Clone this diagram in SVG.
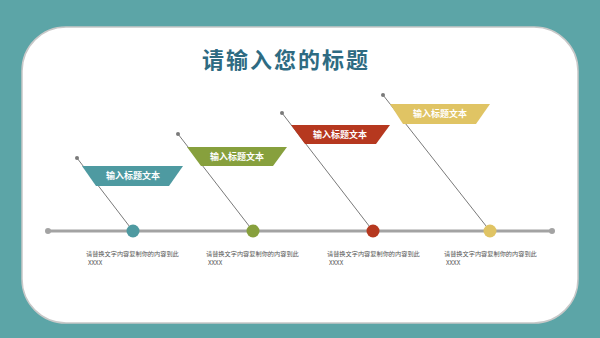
<svg xmlns="http://www.w3.org/2000/svg" width="600" height="338" viewBox="0 0 600 338">
<defs>
<style>
.banner-text{font-family:"Noto Sans CJK SC","Noto Sans",sans-serif;font-size:9px;font-weight:bold;fill:#ffffff;text-anchor:middle}
.body{font-family:"Noto Sans CJK SC","Noto Sans",sans-serif;font-size:6.2px;fill:#555555}
.pin{stroke:#7a7a7a;stroke-width:1;fill:none}
.pindot{fill:#7a7a7a}
</style>
</defs>
<rect x="0" y="0" width="600" height="338" fill="#5CA5A7"/>
<rect x="22" y="27" width="556" height="296" rx="44" ry="44" fill="#ffffff" stroke="#c8c8c8" stroke-width="1.5"/>
<g id="title">
<text x="286" y="68" font-family="Noto Sans CJK SC,sans-serif" font-size="22" font-weight="bold" fill="#2E6B82" text-anchor="middle" letter-spacing="2">请输入您的标题</text>
</g>
<g id="connectors">
<line x1="48" y1="231" x2="552" y2="231" stroke="#a3a3a3" stroke-width="3"/>
<circle cx="48" cy="231" r="3" fill="#a3a3a3"/>
<circle cx="552" cy="231" r="3" fill="#a3a3a3"/>
<line class="pin" x1="77" y1="158" x2="133" y2="231"/>
<circle class="pindot" cx="77" cy="158" r="2"/>
<line class="pin" x1="178" y1="134" x2="253" y2="231"/>
<circle class="pindot" cx="178" cy="134" r="2"/>
<line class="pin" x1="282" y1="113" x2="373" y2="231"/>
<circle class="pindot" cx="282" cy="113" r="2"/>
<line class="pin" x1="383" y1="95" x2="490" y2="231"/>
<circle class="pindot" cx="383" cy="95" r="2"/>
</g>
<g id="node1">
<polygon points="82,166 183,166 169,186 96,186" fill="#4E9AA1"/>
<text class="banner-text" x="133" y="179">输入标题文本</text>
<circle cx="133" cy="231" r="6.5" fill="#4E9AA1"/>
<text class="body" x="86" y="256">请替换文字内容复制你的内容到此</text>
<text class="body" x="88" y="265">XXXX</text>
</g>
<g id="node2">
<polygon points="187,147 287,147 273,166 201,166" fill="#87A03D"/>
<text class="banner-text" x="237" y="160">输入标题文本</text>
<circle cx="253" cy="231" r="6.5" fill="#87A03D"/>
<text class="body" x="206" y="256">请替换文字内容复制你的内容到此</text>
<text class="body" x="208" y="265">XXXX</text>
</g>
<g id="node3">
<polygon points="291,125 390,125 376,144 305,144" fill="#B6381F"/>
<text class="banner-text" x="340" y="138">输入标题文本</text>
<circle cx="373" cy="231" r="6.5" fill="#B6381F"/>
<text class="body" x="327" y="256">请替换文字内容复制你的内容到此</text>
<text class="body" x="329" y="265">XXXX</text>
</g>
<g id="node4">
<polygon points="390,104 490,104 476,124 403,124" fill="#E0C464"/>
<text class="banner-text" x="440" y="117">输入标题文本</text>
<circle cx="490" cy="231" r="6.5" fill="#E0C464"/>
<text class="body" x="444" y="256">请替换文字内容复制你的内容到此</text>
<text class="body" x="446" y="265">XXXX</text>
</g>
</svg>
